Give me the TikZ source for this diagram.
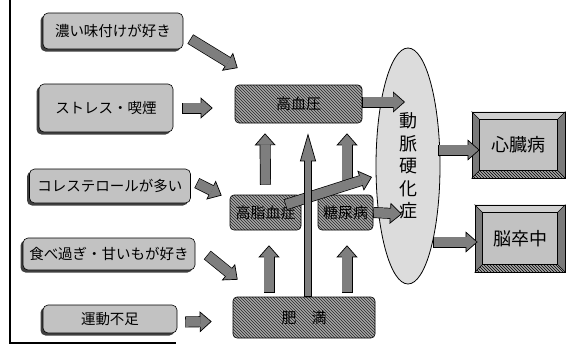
\documentclass[tikz,border=0pt]{standalone}
\usepackage{fontspec}
\newfontfamily\jpfont{Noto Sans CJK JP}
\usepackage{tikz}
\usetikzlibrary{arrows.meta, positioning, shapes.geometric, calc, backgrounds, shadows, patterns}
\definecolor{dotgrey}{HTML}{C2C2C2}
\definecolor{hatchgrey}{HTML}{A6A6A6}
\definecolor{ellgrey}{HTML}{DCDCDC}
\definecolor{arrowgrey}{HTML}{7E7E7E}
\definecolor{bevelgrey}{HTML}{7A7A7A}
\definecolor{toplight}{HTML}{D0D0D0}

\begin{document}
\begin{tikzpicture}[x=1pt, y=-1pt, font=\jpfont,
  causebox/.style={draw, fill=dotgrey, rounded corners=5pt, line width=0.6pt,
    drop shadow={shadow xshift=-2.5pt, shadow yshift=-2.5pt, fill=black!75, opacity=1}},
  hatchbox/.style={draw, rounded corners=4pt, line width=0.6pt, preaction={fill=hatchgrey},
    pattern=north west lines, pattern color=black!85, inner sep=1pt,
    font=\jpfont\fontsize{15}{15}\selectfont},
  resultbox/.style={draw, line width=0.8pt, font=\jpfont\fontsize{18}{18}\selectfont},
  fatarrow/.style={draw=black, line width=11pt,
    -{Triangle[length=12pt, width=21pt, line width=0.7pt, fill=arrowgrey]},
    postaction={draw=arrowgrey, line width=9.6pt, -, shorten >=11pt, shorten <=0.7pt}},
  thinarrow/.style={draw=black, line width=8pt,
    -{Triangle[length=28pt, width=16pt, line width=0.7pt, fill=arrowgrey]},
    postaction={draw=arrowgrey, line width=6.6pt, -, shorten >=27pt, shorten <=0.7pt}}]
  \useasboundingbox (0,0) rectangle (571,354);
  % frame lines of the page
  \draw[line width=1.2pt] (10,0) -- (10,343) -- (176,343);
  % causes
  \foreach \n/\x/\y/\w/\h/\fs/\txt in {
    1/113/31/140/36/14.5/{濃い味付けが好き},
    2/106/108/134/48/14.5/{ストレス・喫煙},
    3/110/186/161/34/14.5/{コレステロールが多い},
    4/109/254/172/32/14.5/{食べ過ぎ・甘いもが好き},
    5/110/319/134/28/14.5/{運動不足}}
  {
    \node[causebox, minimum width=\w pt, minimum height=\h pt,
      font=\jpfont\fontsize{\fs}{\fs}\selectfont] (cause\n) at (\x,\y) {\txt};
  }
  % diseases
  \node[hatchbox, minimum width=127pt, minimum height=38pt] (hbp) at (298.5,104) {高血圧};
  \node[hatchbox, minimum width=71pt, minimum height=35pt] (lipid) at (265.5,212.5) {高脂血症};
  \node[hatchbox, minimum width=55pt, minimum height=35pt] (diab) at (345.5,212.5) {糖尿病};
  \node[hatchbox, minimum width=142pt, minimum height=41pt] (obes) at (304,317.5) {肥　満};
  \node[draw, ellipse, fill=ellgrey, line width=0.8pt, minimum width=64pt, minimum height=236pt,
    align=center, font=\jpfont\fontsize{18}{22.5}\selectfont] (athero) at (408,166) {動\\脈\\硬\\化\\症};
  \node[resultbox, minimum width=93pt, minimum height=66pt] (heart) at (518.5,145) {心臓病};
  \node[resultbox, minimum width=90pt, minimum height=67pt] (stroke) at (520,238.5) {脳卒中};
  \foreach \b in {heart,stroke}{
    \begin{scope}[on background layer]
      \fill[bevelgrey] (\b.north west) rectangle (\b.south east);
      \fill[toplight] (\b.north west) -- (\b.north east) -- ($(\b.north east)+(-8,8)$)
        -- ($(\b.north west)+(8,8)$) -- cycle;
      \path[preaction={fill=hatchgrey}, pattern=north west lines] (\b.south west) -- (\b.south east)
        -- ($(\b.south east)+(-8,-8)$) -- ($(\b.south west)+(8,-8)$) -- cycle;
      \draw[fill=dotgrey] ($(\b.north west)+(8,8)$) rectangle ($(\b.south east)+(-8,-8)$);
      \draw (\b.north west) -- ++(8,8) (\b.north east) -- ++(-8,8)
        (\b.south west) -- ++(8,-8) (\b.south east) -- ++(-8,-8);
    \end{scope}
  }
  % arrows
  \draw[fatarrow] ($(cause1.east)+(7,8)$) -- ($(hbp.west)+(3,-36)$);
  \draw[fatarrow] ($(cause2.east)+(9,0)$) -- ($(hbp.west)+(-22,4)$);
  \draw[fatarrow] ($(cause3.east)+(6,-3)$) -- ($(lipid.west)+(-8,-17)$);
  \draw[fatarrow] ($(cause4.east)+(12,1)$) -- ($(obes.north west)+(5,-17)$);
  \draw[fatarrow] ($(cause5.east)+(8,3)$) -- ($(obes.west)+(-21,4)$);
  \draw[fatarrow] ($(obes.north)+(-35,-4)$) -- ($(lipid.south)+(3.5,15)$);
  \draw[fatarrow] ($(obes.north)+(43,-4)$) -- ($(diab.south)+(1.5,15)$);
  \draw[fatarrow] ($(lipid.north)+(0,-10)$) -- ($(hbp.south)+(-33.5,10)$);
  \draw[fatarrow] ($(diab.north)+(1.5,-10)$) -- ($(hbp.south)+(48.5,10)$);
  \draw[fatarrow] ($(lipid.north east)+(-16,10)$) -- ($(athero.center)+(-36,11)$);
  \draw[thinarrow] ($(obes.north)+(4,0)$) -- ($(hbp.south)+(9.5,10)$);
  \draw[fatarrow] ($(hbp.east)+(0,-2)$) -- ($(athero.center)+(-3,-64)$);
  \draw[fatarrow] (diab.east) -- ($(athero.center)+(-6,48)$);
  \draw[fatarrow] ($(athero.east)+(-2,-16)$) -- ($(heart.west)+(8,5)$);
  \draw[fatarrow] ($(athero.east)+(-7,76)$) -- ($(stroke.west)+(3,3.5)$);
\end{tikzpicture}
\end{document}
